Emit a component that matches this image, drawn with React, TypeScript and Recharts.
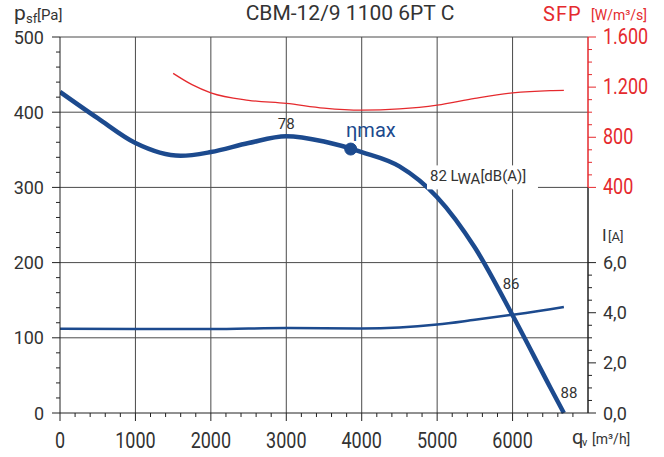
import {
  LineChart,
  Line,
  XAxis,
  YAxis,
  CartesianGrid,
  ReferenceLine,
  ReferenceDot,
} from 'recharts'

// pressure curve p_sf [Pa] over q_v [m³/h]
const pressureQ = [0, 500, 1000, 1600, 2000, 2500, 3000, 3500, 4000, 4500, 5000, 5500, 6000, 6500, 6680]
const pressurePa = [427, 392, 359, 342, 347, 359, 368, 361, 347, 328, 287, 220, 130, 34, 0]

// specific fan power [W/m³/s]
const sfpQ = [1500, 1750, 2000, 2500, 3000, 3500, 4000, 4500, 5000, 5500, 6000, 6500, 6680]
const sfpValues = [1310, 1220, 1155, 1095, 1070, 1032, 1016, 1026, 1056, 1110, 1154, 1172, 1174]

// current I [A]
const currentQ = [0, 1000, 2000, 3000, 4000, 4500, 5000, 5500, 6000, 6500, 6680]
const currentA = [3.36, 3.35, 3.35, 3.39, 3.37, 3.41, 3.53, 3.72, 3.92, 4.14, 4.23]

const xTicks = Array.from({ length: 35 }, (_, i) => i * 200) // 0..6800
const paTicks = Array.from({ length: 26 }, (_, i) => i * 20) // 0..500
const sfpTicks = Array.from({ length: 13 }, (_, i) => 400 + i * 100) // 400..1600
const iTicks = Array.from({ length: 13 }, (_, i) => i * 0.5) // 0..6
const gridQ = [1000, 2000, 3000, 4000, 5000, 6000]
const gridPa = [100, 200, 300, 400, 500]

const pressure = pressureQ.map((q, i) => ({ q, pa: pressurePa[i] }))
const sfp = sfpQ.map((q, i) => ({ q, sfp: sfpValues[i] }))
const current = currentQ.map((q, i) => ({ q, amp: currentA[i] }))

const BLUE = '#1c4a8e'
const RED = '#e52a2e'
const TEXT = '#333'
const FONT = 'Roboto, sans-serif'

function XTick({ x, y, payload }: any) {
  const v = payload.value
  const major = v % 1000 === 0
  return (
    <g>
      <line x1={x} x2={x} y1={y} y2={y + (major ? 8 : 4)} stroke="#222" />
      {major && (
        <text
          transform={`translate(${x},${y + 27}) scale(1,1.25)`}
          textAnchor="middle"
          dominantBaseline="central"
          fontSize={18}
          fontFamily={FONT}
          fill={TEXT}
        >
          {v}
        </text>
      )}
    </g>
  )
}

function PaTick({ x, y, payload }: any) {
  const v = payload.value
  const major = v % 100 === 0
  return (
    <g>
      <line x1={x - (major ? 8 : 4)} x2={x} y1={y} y2={y} stroke="#222" />
      {major && (
        <text x={x - 16} y={y} textAnchor="end" dominantBaseline="central" fontSize={18} fontFamily={FONT} fill={TEXT}>
          {v}
        </text>
      )}
    </g>
  )
}

function fmtSfp(v: number) {
  if (v < 1000) return String(v)
  return `${Math.floor(v / 1000)}.${String(v % 1000).padStart(3, '0')}`
}

// the sfp axis sits 1px right of the plot edge (current axis takes 1px), so pull it back
function SfpTick({ x, y, payload }: any) {
  const v = payload.value
  const major = v % 400 === 0
  const x0 = x - 1
  return (
    <g>
      <line x1={x0} x2={x0 + (major ? 8 : 4)} y1={y} y2={y} stroke={RED} />
      {major && (
        <text
          transform={`translate(${x0 + 15},${y}) scale(1,1.18)`}
          dominantBaseline="central"
          fontSize={18}
          fontFamily={FONT}
          fill={RED}
        >
          {fmtSfp(v)}
        </text>
      )}
    </g>
  )
}

function ITick({ x, y, payload }: any) {
  const v = payload.value
  const major = v % 2 === 0
  return (
    <g>
      <line x1={x} x2={x + (major ? 8 : 4)} y1={y} y2={y} stroke="#222" />
      {major && (
        <text x={x + 15} y={y} dominantBaseline="central" fontSize={18} fontFamily={FONT} fill={TEXT}>
          {v.toFixed(1).replace('.', ',')}
        </text>
      )}
    </g>
  )
}

const note = (text: string, size = 15, color = TEXT) => (p: any) =>
  (
    <text x={p.cx} y={p.cy} textAnchor="middle" dominantBaseline="central" fontSize={size} fontFamily={FONT} fill={color}>
      {text}
    </text>
  )

function LwaLabel(p: any) {
  return (
    <g>
      <rect x={p.cx - 3} y={p.cy - 16} width={111} height={24} fill="#fff" />
      <text x={p.cx} y={p.cy} fontSize={15} fontFamily={FONT} fill={TEXT}>
        82 L
        <tspan dy={3} fontSize={15}>WA</tspan>
        <tspan dy={-3}>[dB(A)]</tspan>
      </text>
    </g>
  )
}

function EtaLabel(p: any) {
  return (
    <text x={p.cx} y={p.cy} fontSize={20} fontFamily={FONT} fill={BLUE}>
      ηmax
    </text>
  )
}

function Units() {
  return (
    <svg width={664} height={457} style={{ position: 'absolute', left: 0, top: 0, pointerEvents: 'none' }} fontFamily={FONT}>
      <text x={350} y={20} textAnchor="middle" fontSize={21} fill={TEXT}>
        CBM-12/9 1100 6PT C
      </text>
      <text x={14} y={19.5} fontSize={21} fill={TEXT}>p</text>
      <text x={26} y={22.7} fontSize={13} fill={TEXT}>sf</text>
      <text x={37} y={19.5} fontSize={15} fill={TEXT}>[Pa]</text>
      <text x={543} y={21} fontSize={20} letterSpacing={1} fill={RED}>SFP</text>
      <text x={591} y={19.5} fontSize={14} fill={RED}>[W/m³/s]</text>
      <text x={602} y={241} fontSize={17} fill={TEXT}>I</text>
      <text x={608} y={241} fontSize={13} fill={TEXT}>[A]</text>
      <text x={572} y={444} fontSize={20} fill={TEXT}>q</text>
      <text x={582} y={446} fontSize={11} fill={TEXT}>v</text>
      <text x={592} y={444} fontSize={14} fill={TEXT}>[m³/h]</text>
    </svg>
  )
}

export default function App() {
  return (
    <div style={{ position: 'fixed', left: 0, top: 0, width: 664, height: 457, background: '#fff' }}>
      <LineChart width={664} height={457} margin={{ top: 37, right: 0, bottom: 0, left: 0 }}>
        <CartesianGrid
          yAxisId="pa"
          horizontalValues={gridPa}
          verticalValues={gridQ}
          stroke="#4a4a4a"
          strokeWidth={1}
        />
        <XAxis
          type="number"
          dataKey="q"
          domain={[0, 7000]}
          ticks={xTicks}
          interval={0}
          height={44}
          tickSize={0}
          tickMargin={0}
          tickLine={false}
          tick={<XTick />}
          axisLine={{ stroke: '#222' }}
          allowDataOverflow
        />
        <YAxis
          yAxisId="pa"
          domain={[0, 500]}
          ticks={paTicks}
          interval={0}
          width={60}
          tickSize={0}
          tickMargin={0}
          tickLine={false}
          tick={<PaTick />}
          axisLine={{ stroke: '#222' }}
        />
        <YAxis
          yAxisId="sfp"
          orientation="right"
          domain={[-1400, 1600]}
          ticks={sfpTicks}
          interval={0}
          width={75}
          tickSize={0}
          tickMargin={0}
          tickLine={false}
          tick={<SfpTick />}
          axisLine={false}
        />
        <YAxis
          yAxisId="i"
          orientation="right"
          domain={[0, 15]}
          ticks={iTicks}
          interval={0}
          width={1}
          tickSize={0}
          tickMargin={0}
          tickLine={false}
          tick={<ITick />}
          axisLine={false}
        />
        <ReferenceLine
          yAxisId="sfp"
          segment={[{ x: 7000, y: 400 }, { x: 7000, y: 1600 }]}
          stroke={RED}
          strokeWidth={1.5}
        />
        <ReferenceLine
          yAxisId="i"
          segment={[{ x: 7000, y: 0 }, { x: 7000, y: 9 }]}
          stroke="#222"
          strokeWidth={1.5}
        />
        <Line
          yAxisId="sfp"
          data={sfp}
          dataKey="sfp"
          type="monotone"
          stroke={RED}
          strokeWidth={1.3}
          dot={false}
          isAnimationActive={false}
        />
        <Line
          yAxisId="i"
          data={current}
          dataKey="amp"
          type="monotone"
          stroke={BLUE}
          strokeWidth={2.5}
          dot={false}
          isAnimationActive={false}
        />
        <Line
          yAxisId="pa"
          data={pressure}
          dataKey="pa"
          type="monotone"
          stroke={BLUE}
          strokeWidth={4.5}
          dot={false}
          isAnimationActive={false}
        />
        <ReferenceDot yAxisId="pa" x={3854} y={351} r={6} fill={BLUE} stroke={BLUE} />
        <ReferenceDot yAxisId="pa" x={3000} y={384} r={0} shape={note('78')} />
        <ReferenceDot yAxisId="pa" x={3792} y={367} r={0} shape={EtaLabel} />
        <ReferenceDot yAxisId="pa" x={4905} y={308} r={0} shape={LwaLabel} />
        <ReferenceDot yAxisId="pa" x={5980} y={172} r={0} shape={note('86')} />
        <ReferenceDot yAxisId="pa" x={6748} y={27} r={0} shape={note('88')} />
      </LineChart>
      <Units />
    </div>
  )
}
